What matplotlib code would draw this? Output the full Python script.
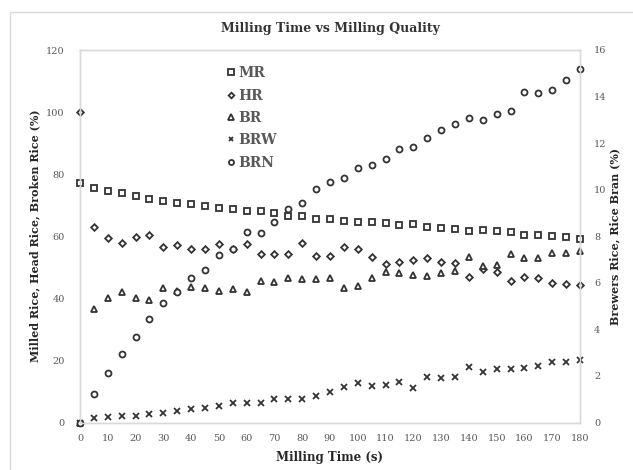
import matplotlib
matplotlib.use("Agg")
import matplotlib.pyplot as plt
from matplotlib.patches import Rectangle

# milling time (s)
time_s = list(range(0, 185, 5))

# left axis (%)
mr = [77.0, 75.4, 74.6, 73.8, 73.0, 72.1, 71.4, 70.8, 70.3, 69.9, 69.0, 68.7,
      68.0, 68.0, 67.4, 66.6, 66.5, 65.6, 65.5, 65.0, 64.7, 64.5, 64.4, 63.6,
      63.8, 63.0, 62.6, 62.3, 61.7, 62.0, 61.7, 61.4, 60.4, 60.4, 60.1, 59.7,
      59.1]
hr = [100.0, 62.9, 59.5, 57.7, 59.7, 60.4, 56.4, 57.2, 55.8, 56.0, 57.5, 55.8,
      57.5, 54.2, 54.2, 54.2, 57.7, 53.7, 53.6, 56.4, 55.8, 53.4, 51.1, 51.8,
      52.4, 52.9, 51.6, 51.3, 46.8, 49.5, 48.6, 45.7, 46.8, 46.4, 44.8, 44.6,
      44.3]
br = [0.0, 36.7, 40.0, 41.9, 40.0, 39.5, 43.2, 42.5, 43.7, 43.4, 42.4, 42.9,
      41.9, 45.6, 45.4, 46.4, 46.1, 46.2, 46.4, 43.4, 44.0, 46.4, 48.6, 48.1,
      47.5, 47.2, 48.3, 48.9, 53.2, 50.5, 50.7, 54.2, 53.1, 53.1, 54.7, 54.7,
      55.3]

# right axis (%)
brw = [0.0, 0.18, 0.25, 0.27, 0.28, 0.37, 0.42, 0.51, 0.58, 0.64, 0.71, 0.82,
       0.85, 0.82, 1.00, 1.00, 1.00, 1.15, 1.30, 1.52, 1.68, 1.58, 1.61, 1.75,
       1.50, 1.94, 1.90, 1.97, 2.40, 2.16, 2.28, 2.30, 2.33, 2.44, 2.61, 2.59,
       2.68]
brn = [0.0, 1.22, 2.14, 2.94, 3.69, 4.43, 5.12, 5.62, 6.19, 6.55, 7.19, 7.44,
       8.20, 8.15, 8.61, 9.16, 9.42, 10.03, 10.34, 10.52, 10.92, 11.06, 11.31,
       11.73, 11.82, 12.21, 12.56, 12.81, 13.09, 12.99, 13.25, 13.38, 14.18,
       14.14, 14.28, 14.71, 15.17]

plt.rcParams["font.family"] = ["DejaVu Serif"]

edge = "#333333"
grid_c = "#d9d9d9"
tick_c = "#595959"

fig = plt.figure(figsize=(6.33, 4.70), dpi=100)
ax = fig.add_axes([80 / 633, 47.5 / 470, 500 / 633, 372.5 / 470])
ax2 = ax.twinx()

mk = dict(linestyle="none", markerfacecolor="white", markeredgecolor=edge,
          markeredgewidth=1.3, clip_on=False)
h1, = ax.plot(time_s, mr, marker="s", markersize=4.3, label="MR", **mk)
h2, = ax.plot(time_s, hr, marker="D", markersize=3.4, label="HR", **mk)
h3, = ax.plot(time_s, br, marker="^", markersize=4.5, label="BR", **mk)
h4, = ax2.plot(time_s, brw, marker="x", markersize=4.0, label="BRW", **mk)
h5, = ax2.plot(time_s, brn, marker="o", markersize=4.3, label="BRN", **mk)

ax.set_xlim(0, 180)
ax.set_ylim(0, 120)
ax2.set_ylim(0, 16)
ax.set_xticks(range(0, 181, 10))
ax.set_yticks(range(0, 121, 20))
ax2.set_yticks(range(0, 17, 2))

for a in (ax, ax2):
    for s in a.spines.values():
        s.set_color(grid_c)
        s.set_linewidth(1.0)
    a.tick_params(length=0, labelsize=7, colors=tick_c)
ax.tick_params(axis="y", pad=11)
ax.tick_params(axis="x", pad=8)
ax2.tick_params(axis="y", pad=10)

ax.set_title("Milling Time vs Milling Quality", fontsize=9, fontweight="bold",
             color=edge, pad=13)
ax.set_xlabel("Milling Time (s)", fontsize=8.5, fontweight="bold",
              color="#262626", labelpad=6)
ax.set_ylabel("Milled Rice, Head Rice, Broken Rice (%)", fontsize=8,
              fontweight="bold", color="#262626", labelpad=4)
ax2.set_ylabel("Brewers Rice, Rice Bran (%)", fontsize=8, fontweight="bold",
               color="#262626", labelpad=2)

leg = ax2.legend(handles=[h1, h2, h3, h4, h5], loc="upper left",
                 bbox_to_anchor=(0.27, 0.99), frameon=False,
                 handlelength=0.5, handletextpad=0.25, labelspacing=0.6,
                 markerscale=0.85, prop={"weight": "bold", "size": 10})
for t in leg.get_texts():
    t.set_color(tick_c)

# outer chart border
fig.patches.append(Rectangle((10 / 633, -0.1), 1.2, (458 / 470) + 0.1,
                             transform=fig.transFigure, fill=False,
                             edgecolor=grid_c, linewidth=1.0))

fig.savefig("out.png", dpi=100)
